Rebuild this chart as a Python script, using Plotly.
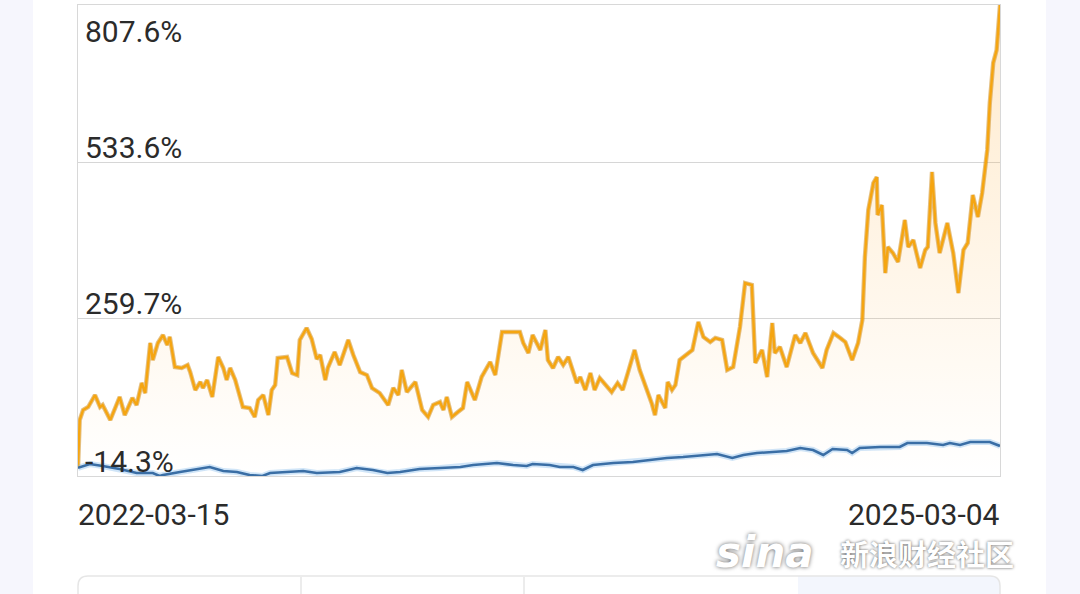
import plotly.graph_objects as go

# ---------------- data ----------------
fund_dates = [
    "2022-03-15", "2022-03-17", "2022-03-21", "2022-03-27", "2022-04-04", "2022-04-10", "2022-04-13", "2022-04-22",
    "2022-05-03", "2022-05-09", "2022-05-18", "2022-05-23", "2022-05-29", "2022-06-02", "2022-06-08", "2022-06-11",
    "2022-06-17", "2022-06-23", "2022-06-28", "2022-07-01", "2022-07-07", "2022-07-15", "2022-07-22", "2022-07-25",
    "2022-07-31", "2022-08-06", "2022-08-09", "2022-08-14", "2022-08-20", "2022-08-27", "2022-09-02", "2022-09-06",
    "2022-09-10", "2022-09-16", "2022-09-25", "2022-10-03", "2022-10-09", "2022-10-13", "2022-10-19", "2022-10-25",
    "2022-10-29", "2022-11-02", "2022-11-05", "2022-11-16", "2022-11-22", "2022-11-28", "2022-12-01", "2022-12-09",
    "2022-12-15", "2022-12-21", "2022-12-25", "2022-12-31", "2023-01-03", "2023-01-11", "2023-01-17", "2023-01-27",
    "2023-02-02", "2023-02-10", "2023-02-18", "2023-02-24", "2023-03-05", "2023-03-15", "2023-03-21", "2023-03-27",
    "2023-03-31", "2023-04-06", "2023-04-16", "2023-04-24", "2023-05-01", "2023-05-07", "2023-05-15", "2023-05-19",
    "2023-05-23", "2023-05-29", "2023-06-05", "2023-06-11", "2023-06-16", "2023-06-25", "2023-07-03", "2023-07-13",
    "2023-07-19", "2023-07-27", "2023-08-17", "2023-08-21", "2023-08-27", "2023-09-01", "2023-09-10", "2023-09-16",
    "2023-09-19", "2023-09-25", "2023-10-01", "2023-10-07", "2023-10-13", "2023-10-17", "2023-10-23", "2023-10-27",
    "2023-11-02", "2023-11-08", "2023-11-13", "2023-11-19", "2023-11-28", "2023-12-03", "2023-12-10", "2023-12-16",
    "2023-12-22", "2023-12-30", "2024-01-05", "2024-01-14", "2024-01-19", "2024-01-23", "2024-01-27", "2024-02-04",
    "2024-02-07", "2024-02-12", "2024-02-16", "2024-02-21", "2024-02-29", "2024-03-07", "2024-03-14", "2024-03-20",
    "2024-03-28", "2024-04-03", "2024-04-11", "2024-04-17", "2024-04-24", "2024-05-02", "2024-05-08", "2024-05-16",
    "2024-05-20", "2024-05-28", "2024-06-03", "2024-06-09", "2024-06-12", "2024-06-18", "2024-06-26", "2024-07-06",
    "2024-07-12", "2024-07-18", "2024-07-27", "2024-08-07", "2024-08-12", "2024-08-20", "2024-08-28", "2024-09-03",
    "2024-09-11", "2024-09-18", "2024-09-23", "2024-09-26", "2024-09-30", "2024-10-06", "2024-10-10", "2024-10-11",
    "2024-10-16", "2024-10-20", "2024-10-23", "2024-10-29", "2024-11-04", "2024-11-12", "2024-11-16", "2024-11-22",
    "2024-11-30", "2024-12-06", "2024-12-09", "2024-12-14", "2024-12-18", "2024-12-23", "2025-01-01", "2025-01-08",
    "2025-01-14", "2025-01-20", "2025-01-25", "2025-01-31", "2025-02-06", "2025-02-11", "2025-02-17", "2025-02-20",
    "2025-02-24", "2025-02-28", "2025-03-04",
]
fund_return = [
    0.0, 83.4, 100.9, 106.1, 127.0, 106.1, 109.6, 83.4,
    123.6, 92.1, 121.8, 109.6, 148.0, 130.5, 217.8, 188.1,
    217.8, 231.7, 214.3, 228.3, 175.9, 174.2, 179.4, 167.2,
    135.8, 149.7, 139.3, 153.2, 123.6, 193.4, 174.2, 153.2,
    174.2, 153.2, 106.1, 104.4, 88.7, 118.3, 127.0, 92.1,
    135.8, 144.5, 191.6, 193.4, 165.4, 161.9, 223.0, 244.0,
    224.8, 189.9, 196.8, 153.2, 174.2, 202.1, 179.4, 223.0,
    196.8, 167.2, 161.9, 139.3, 130.5, 109.6, 139.3, 127.0,
    170.7, 132.3, 149.7, 100.9, 88.7, 109.6, 114.8, 100.9,
    123.6, 88.7, 97.4, 104.4, 149.7, 118.3, 158.5, 184.6,
    161.9, 237.0, 237.0, 217.8, 200.3, 231.7, 205.6, 240.5,
    188.1, 174.2, 193.4, 179.4, 193.4, 175.9, 148.0, 158.5,
    135.8, 165.4, 135.8, 156.7, 141.0, 132.3, 148.0, 135.8,
    165.4, 205.6, 170.7, 135.8, 113.1, 92.1, 127.0, 104.4,
    149.7, 135.8, 144.5, 188.1, 196.8, 205.6, 254.4, 228.3,
    219.5, 226.5, 223.0, 170.7, 175.9, 245.7, 322.5, 319.0,
    182.9, 205.6, 158.5, 252.7, 200.3, 210.8, 175.9, 231.7,
    217.8, 235.2, 200.3, 174.2, 205.6, 235.2, 226.5, 219.5,
    188.1, 217.8, 257.9, 367.9, 449.9, 497.0, 507.5, 441.1,
    458.6, 339.9, 385.3, 374.8, 359.1, 432.4, 385.3, 397.5,
    348.7, 380.1, 385.3, 516.2, 427.2, 374.8, 427.2, 374.8,
    305.0, 380.1, 392.3, 476.0, 437.7, 479.5, 554.6, 636.6,
    706.4, 729.1, 807.6,
]

bench_dates = [
    "2022-03-15", "2022-03-29", "2022-04-13", "2022-05-03", "2022-05-23", "2022-06-11", "2022-06-19", "2022-06-23",
    "2022-07-13", "2022-08-02", "2022-08-17", "2022-09-02", "2022-09-18", "2022-10-03", "2022-10-18", "2022-10-27",
    "2022-11-16", "2022-12-05", "2022-12-21", "2023-01-17", "2023-02-06", "2023-02-25", "2023-03-14", "2023-03-29",
    "2023-04-21", "2023-05-15", "2023-06-08", "2023-06-23", "2023-07-21", "2023-08-09", "2023-08-25", "2023-09-01",
    "2023-09-21", "2023-10-03", "2023-10-19", "2023-10-30", "2023-11-11", "2023-12-05", "2023-12-28", "2024-01-17",
    "2024-02-06", "2024-02-25", "2024-03-20", "2024-04-05", "2024-04-23", "2024-05-06", "2024-05-22", "2024-06-10",
    "2024-06-26", "2024-07-12", "2024-07-27", "2024-08-08", "2024-08-19", "2024-09-05", "2024-09-11", "2024-09-20",
    "2024-10-14", "2024-11-06", "2024-11-15", "2024-12-08", "2024-12-27", "2025-01-04", "2025-01-16", "2025-01-28",
    "2025-02-20", "2025-03-04",
]
bench_return = [
    0.0, 6.6, 3.2, -2.1, -9.1, -9.1, -14.3, -12.6,
    -7.3, -2.1, 1.4, -5.6, -7.3, -12.6, -14.3, -9.1,
    -7.3, -5.6, -9.1, -7.3, -0.3, -3.8, -9.1, -7.3,
    -2.1, -0.3, 1.4, 4.9, 8.4, 4.9, 3.2, 6.6,
    4.9, 1.4, 1.4, -3.8, 4.9, 8.4, 10.1, 13.6,
    17.1, 18.9, 22.3, 24.1, 17.1, 22.3, 25.8, 27.6,
    29.3, 34.6, 31.1, 22.3, 32.8, 31.1, 25.8, 34.6,
    36.3, 36.3, 43.3, 43.3, 39.8, 43.3, 39.8, 45.0,
    45.0, 38.1,
]

y_ticks = [-14.3, 259.7, 533.6, 807.6]
y_tick_labels = ["-14.3%", "259.7%", "533.6%", "807.6%"]
x_start_label = "2022-03-15"
x_end_label = "2025-03-04"

# ---------------- figure ----------------
FONT = "Roboto, 'DejaVu Sans', sans-serif"
ORANGE = "#f5a511"
BLUE = "#3a6ea5"
TXT = "#2b2b2b"
FS = 30

fig = go.Figure()

# baseline for the area fill (axis minimum)
fig.add_trace(go.Scatter(
    x=[fund_dates[0], fund_dates[-1]], y=[y_ticks[0], y_ticks[0]],
    mode="lines", line=dict(width=0, color="rgba(0,0,0,0)"),
    hoverinfo="skip", showlegend=False,
))
# fund area with vertical gradient
fig.add_trace(go.Scatter(
    x=fund_dates, y=fund_return, mode="lines",
    line=dict(color="rgba(0,0,0,0)", width=0),
    fill="tonexty",
    fillgradient=dict(
        type="vertical",
        colorscale=[[0, "rgba(255,175,60,0.0)"], [1, "rgba(255,175,60,0.26)"]],
        start=y_ticks[0], stop=y_ticks[-1],
    ),
    hoverinfo="skip", showlegend=False,
))
# fund line (edge + core)
fig.add_trace(go.Scatter(
    x=fund_dates, y=fund_return, mode="lines",
    line=dict(color="rgba(205,140,30,0.55)", width=4.4),
    hoverinfo="skip", showlegend=False,
))
fig.add_trace(go.Scatter(
    x=fund_dates, y=fund_return, mode="lines",
    line=dict(color=ORANGE, width=2.4), name="本基金", showlegend=False,
))
# benchmark line (glow + core)
fig.add_trace(go.Scatter(
    x=bench_dates, y=bench_return, mode="lines",
    line=dict(color="rgba(120,180,235,0.35)", width=6),
    hoverinfo="skip", showlegend=False,
))
fig.add_trace(go.Scatter(
    x=bench_dates, y=bench_return, mode="lines",
    line=dict(color=BLUE, width=2.6), name="基准", showlegend=False,
))

annotations = []
# y labels (placed just above their grid line; top one below the frame)
for v, t in zip(y_ticks, y_tick_labels):
    shift = -26 if v == y_ticks[-1] else 15
    annotations.append(dict(
        x=0, xref="paper", xanchor="left", xshift=5,
        y=v, yref="y", yanchor="middle", yshift=shift,
        text=t, showarrow=False,
        font=dict(family=FONT, size=FS, color=TXT),
    ))
# x labels
annotations.append(dict(x=0, xref="paper", xanchor="left", xshift=-2,
                        y=-0.0828, yref="paper", yanchor="middle",
                        text=x_start_label, showarrow=False,
                        font=dict(family=FONT, size=FS, color=TXT)))
annotations.append(dict(x=1, xref="paper", xanchor="right", xshift=2,
                        y=-0.0828, yref="paper", yanchor="middle",
                        text=x_end_label, showarrow=False,
                        font=dict(family=FONT, size=FS, color=TXT)))
# watermark
annotations.append(dict(x=(765 - 78) / 922, xref="paper", xanchor="center",
                        y=(476 - 552) / 471, yref="paper", yanchor="middle",
                        text="<b><i>sina</i></b>", showarrow=False,
                        font=dict(family="'DejaVu Sans', sans-serif", size=42, color="white",
                                  shadow="0px 0px 4px #666")))
annotations.append(dict(x=(838 - 78) / 922, xref="paper", xanchor="left",
                        y=(476 - 553) / 471, yref="paper", yanchor="middle",
                        text="<b>新浪财经社区</b>", showarrow=False,
                        font=dict(family="'Noto Sans CJK SC'", size=29, color="white",
                                  shadow="0px 0px 3px #555")))


def px_x(p):
    return (p - 78) / 922


def px_y(p):
    return (476 - p) / 471


shapes = [
    # page background on both sides of the white card
    dict(type="rect", xref="paper", yref="paper", x0=px_x(-5), x1=px_x(33), y0=px_y(600), y1=px_y(-5),
         fillcolor="#f6f6fd", line=dict(width=0), layer="below"),
    dict(type="rect", xref="paper", yref="paper", x0=px_x(1046), x1=px_x(1085), y0=px_y(600), y1=px_y(-5),
         fillcolor="#f6f6fd", line=dict(width=0), layer="below"),
    # highlighted tab
    dict(type="path", xref="paper", yref="paper",
         path=f"M {px_x(798)},{px_y(600)} L {px_x(798)},{px_y(576)} L {px_x(990)},{px_y(576)} "
              f"Q {px_x(1000)},{px_y(576)} {px_x(1000)},{px_y(586)} L {px_x(1000)},{px_y(600)} Z",
         fillcolor="#f3f6fd", line=dict(width=0), layer="below"),
    # tab box outline
    dict(type="path", xref="paper", yref="paper",
         path=f"M {px_x(78)},{px_y(600)} L {px_x(78)},{px_y(586)} Q {px_x(78)},{px_y(576)} {px_x(88)},{px_y(576)} "
              f"L {px_x(990)},{px_y(576)} Q {px_x(1000)},{px_y(576)} {px_x(1000)},{px_y(586)} L {px_x(1000)},{px_y(600)}",
         line=dict(color="#e6e6e6", width=1.5), layer="below"),
]
for dx in (301, 524):
    shapes.append(dict(type="line", xref="paper", yref="paper", x0=px_x(dx), x1=px_x(dx),
                       y0=px_y(577), y1=px_y(600), line=dict(color="#e6e6e6", width=1.5), layer="below"))

fig.update_layout(
    width=1080, height=594,
    margin=dict(l=78, r=80, t=5, b=118),
    paper_bgcolor="white", plot_bgcolor="white",
    showlegend=False,
    annotations=annotations,
    shapes=shapes,
    xaxis=dict(type="date", range=[x_start_label, x_end_label],
               showgrid=False, showticklabels=False, ticks="",
               showline=True, mirror=True, linecolor="#d8d8d8", linewidth=1, zeroline=False),
    yaxis=dict(range=[y_ticks[0], y_ticks[-1]], tickvals=y_ticks[1:3],
               showticklabels=False, ticks="", showgrid=True, gridcolor="#d6d6d6", gridwidth=1,
               showline=True, mirror=True, linecolor="#d8d8d8", linewidth=1, zeroline=False),
)

fig.write_html("out.html", config={"displayModeBar": False},
               post_script="document.body.style.margin='0';document.body.style.overflow='hidden';")
